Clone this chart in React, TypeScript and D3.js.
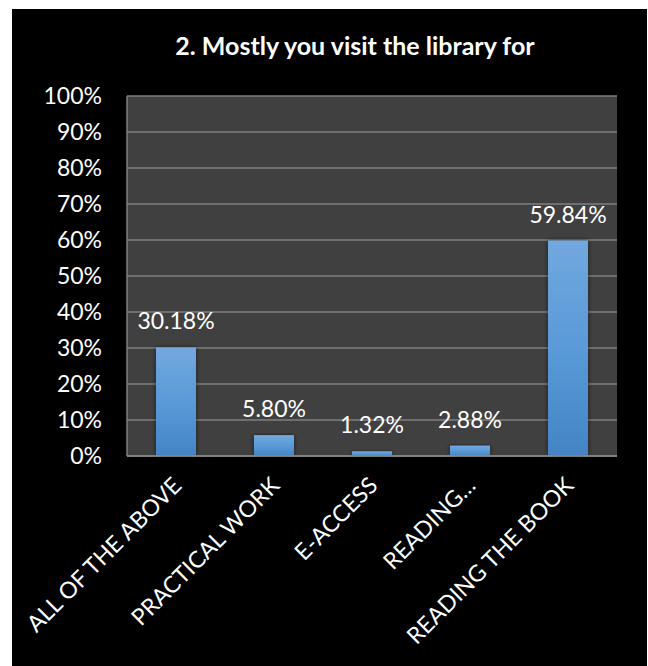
import React from "react";
import * as d3 from "d3";

const categories = ["ALL OF THE ABOVE", "PRACTICAL WORK", "E-ACCESS", "READING…", "READING THE BOOK"];
const values = [30.18, 5.8, 1.32, 2.88, 59.84];
const yTicks = [0, 10, 20, 30, 40, 50, 60, 70, 80, 90, 100];
const title = "2. Mostly you visit the library for";

const W = 648;
const H = 666;
const plot = { left: 127, right: 617, top: 96, bottom: 456 };
const FONT = "Lato, 'Open Sans', sans-serif";

export default function App() {
  const x = d3.scaleBand<string>().domain(categories).range([plot.left, plot.right]).paddingInner(0.592).paddingOuter(0.296);
  const y = d3.scaleLinear().domain([0, 100]).range([plot.bottom, plot.top]);
  const bw = x.bandwidth();

  return (
    <svg width={W} height={H} style={{ position: "absolute", left: 0, top: 0, background: "#fff" }}>
      <defs>
        <linearGradient id="barGrad" x1="0" y1="0" x2="0" y2="1">
          <stop offset="0%" stopColor="#72a8de" />
          <stop offset="50%" stopColor="#5a9ad8" />
          <stop offset="100%" stopColor="#4384c5" />
        </linearGradient>
        <filter id="shadow" x="-30%" y="-10%" width="160%" height="120%">
          <feDropShadow dx="0" dy="0" stdDeviation="2.5" floodColor="#000" floodOpacity="0.55" />
        </filter>
      </defs>
      <rect x={12} y={9} width={635} height={657} fill="#000" />
      <text x={355} y={55} textAnchor="middle" fill="#fff" fontFamily={FONT} fontWeight={700} fontSize={25}>
        {title}
      </text>
      <rect x={plot.left} y={plot.top} width={plot.right - plot.left} height={plot.bottom - plot.top} fill="#404040" />
      {yTicks.map((t) => (
        <g key={t}>
          <line x1={plot.left} x2={plot.right} y1={y(t)} y2={y(t)} stroke="#7f7f7f" strokeWidth={1.5} />
          <text x={102} y={y(t)} dy="0.36em" textAnchor="end" fill="#fff" fontFamily={FONT} fontSize={23}>
            {t}%
          </text>
        </g>
      ))}
      <line x1={plot.left} x2={plot.left} y1={plot.top} y2={plot.bottom} stroke="#7f7f7f" strokeWidth={1.5} />
      {categories.map((c, i) => {
        const cx = (x(c) as number) + bw / 2;
        return (
          <g key={c}>
            <rect x={x(c)} y={y(values[i])} width={bw} height={plot.bottom - y(values[i])} fill="url(#barGrad)" filter="url(#shadow)" />
            <text x={cx} y={y(values[i]) - 18} textAnchor="middle" fill="#fff" fontFamily={FONT} fontSize={23}>
              {values[i].toFixed(2)}%
            </text>
            <text
              transform={`translate(${cx + 7},${plot.bottom + 31}) rotate(-45)`}
              textAnchor="end"
              fill="#fff"
              fontFamily={FONT}
              fontSize={23}
            >
              {c}
            </text>
          </g>
        );
      })}
      <line x1={plot.left} x2={plot.right} y1={plot.bottom} y2={plot.bottom} stroke="#8a8a8a" strokeWidth={1.5} />
    </svg>
  );
}
